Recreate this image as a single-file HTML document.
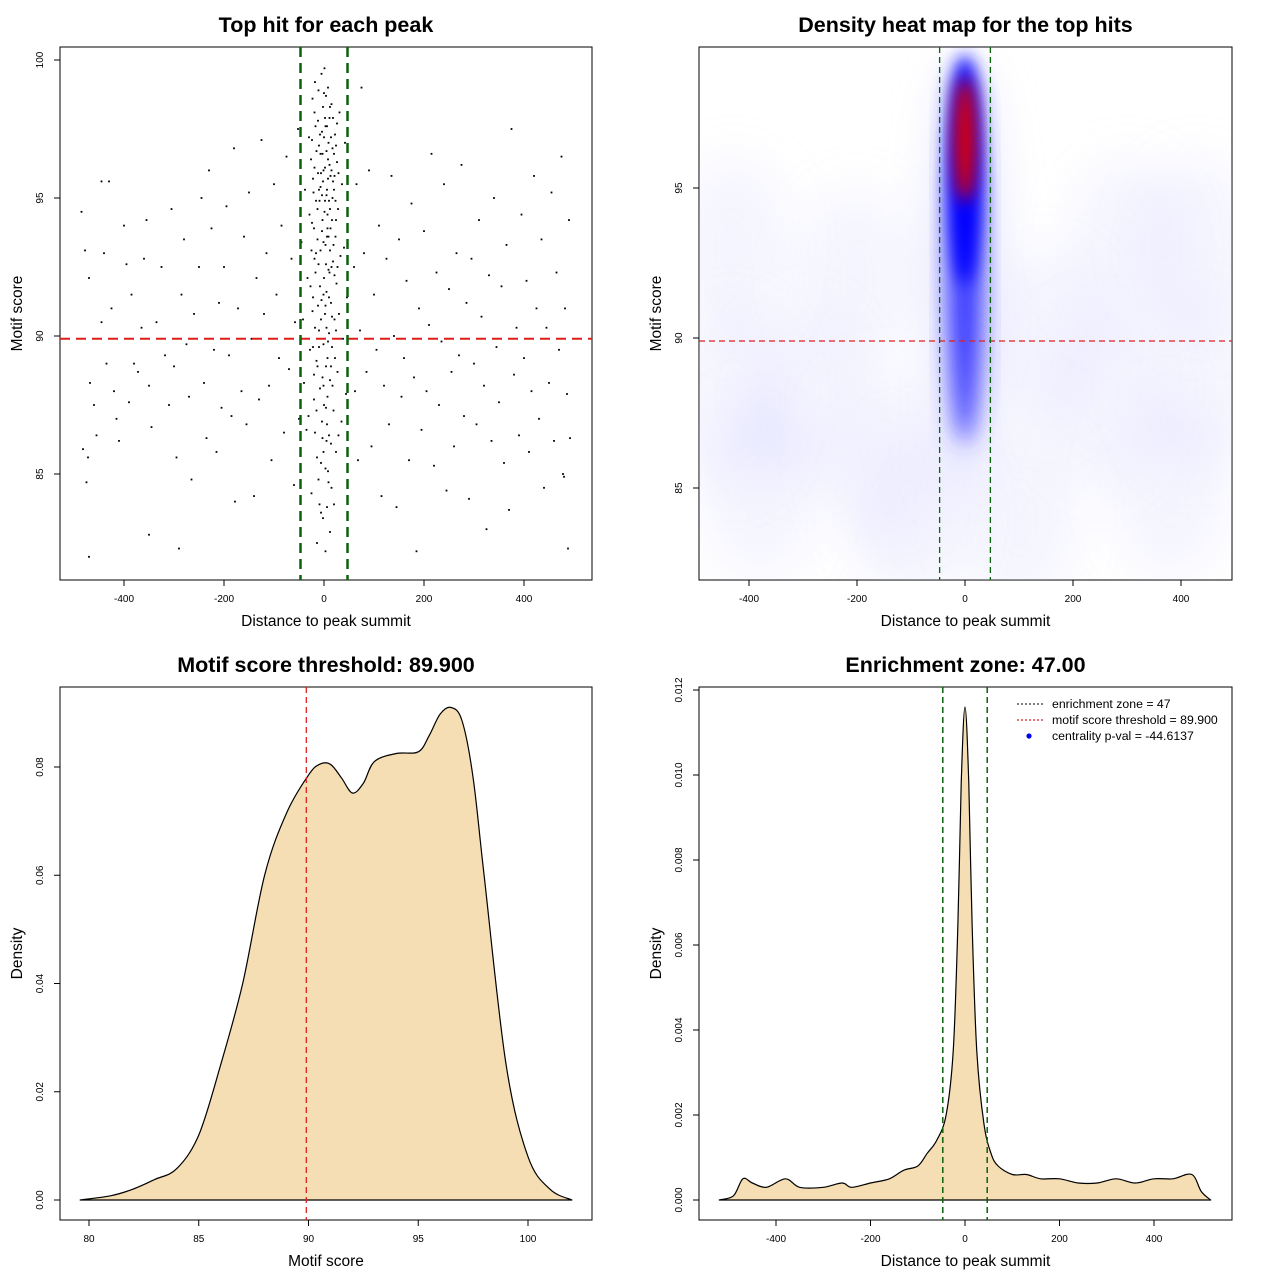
<!DOCTYPE html>
<html><head><meta charset="utf-8"><style>
body{margin:0;background:#fff}
svg{display:block;font-family:"Liberation Sans",sans-serif}
</style></head><body>
<svg id="c" width="1280" height="1280" viewBox="0 0 1280 1280">
<defs>
<clipPath id="clip2"><rect x="699" y="47" width="533" height="533"/></clipPath>
<filter id="blurA" x="-50%" y="-50%" width="200%" height="200%"><feGaussianBlur stdDeviation="12"/></filter>
<filter id="blurB" x="-50%" y="-50%" width="200%" height="200%"><feGaussianBlur stdDeviation="8"/></filter>
<filter id="blurC" x="-50%" y="-50%" width="200%" height="200%"><feGaussianBlur stdDeviation="22"/></filter>
</defs>
</svg>
<script>
// ---------- data ----------
const hits = [
[-485,94.5],[-478,93.1],[-470,92.1],[-468,88.3],[-460,87.5],[-455,86.4],[-472,85.6],[-482,85.9],[-475,84.7],[-470,82],[-445,95.6],[-430,95.6],[-440,93],[-425,91],[-435,89],[-420,88],[-415,87],[-410,86.2],[-445,90.5],[-400,94],[-395,92.6],[-385,91.5],[-380,89],[-390,87.6],[-372,88.7],[-365,90.3],[-360,92.8],[-355,94.2],[-350,88.2],[-345,86.7],[-350,82.8],[-335,90.5],[-325,92.5],[-318,89.3],[-310,87.5],[-305,94.6],[-300,88.9],[-295,85.6],[-290,82.3],[-285,91.5],[-280,93.5],[-275,89.7],[-270,87.8],[-265,84.8],[-260,90.8],[-250,92.5],[-245,95],[-240,88.3],[-235,86.3],[-230,96],[-225,93.9],[-220,89.5],[-215,85.8],[-210,91.2],[-205,87.4],[-200,92.5],[-195,94.7],[-190,89.3],[-185,87.1],[-180,96.8],[-178,84],[-172,91],[-165,88],[-160,93.6],[-155,86.8],[-150,95.2],[-145,89.9],[-140,84.2],[-135,92.1],[-130,87.7],[-125,97.1],[-120,90.8],[-115,93],[-110,88.2],[-105,85.5],[-100,95.5],[-95,91.5],[-90,89.2],[-85,94],[-80,86.5],[-75,96.5],[-70,88.8],[-65,92.8],[-60,84.6],[-58,90.5],[-52,97.5],[-50,87],
[60,92.5],[62,88],[65,95.5],[68,85.5],[72,90.2],[75,99],[80,93],[85,88.7],[90,96],[95,86],[100,91.5],[105,89.5],[110,94],[115,84.2],[120,88.2],[125,92.8],[130,86.8],[135,95.8],[140,90],[145,83.8],[150,93.5],[155,87.8],[160,89.2],[165,92],[170,85.5],[175,94.8],[180,88.5],[185,82.2],[190,91],[195,86.6],[200,93.8],[205,88],[210,90.4],[215,96.6],[220,85.3],[225,92.3],[230,87.5],[235,89.8],[240,95.5],[245,84.4],[250,91.7],[255,88.7],[260,86],[265,93],[270,89.3],[275,96.2],[280,87.1],[285,91.2],[290,84.1],[295,92.8],[300,89],[305,86.8],[310,94.2],[315,90.7],[320,88.2],[325,83],[330,92.2],[335,86.2],[340,95],[345,89.6],[350,87.6],[355,91.8],[360,85.4],[365,93.3],[370,83.7],[375,97.5],[380,88.6],[385,90.3],[390,86.4],[395,94.4],[400,89.2],[405,92],[410,85.8],[415,88],[420,95.8],[425,91],[430,87],[435,93.5],[440,84.5],[445,90.3],[450,88.3],[455,95.2],[460,86.2],[465,92.3],[470,89.5],[475,96.5],[478,85],[482,91],[486,87.9],[490,94.2],[492,86.3],[488,82.3],[480,84.9],
[-45,93.4],[-42,90.6],[-40,88.3],[-38,95.3],[-35,86.6],[-33,92.1],[-30,97.2],[-28,89.5],[-25,84.3],[-24,94.1],[-22,91.4],[-20,87.7],[-19,96.1],[-18,99.2],[-16,93],[-15,89.1],[-14,85.6],[-12,97.8],[-11,92.6],[-10,90.2],[-9,94.9],[-8,88.1],[-7,96.6],[-6,83.6],[-5,99.5],[-5,91.3],[-4,93.8],[-3,86.3],[-2,98.3],[-2,95.6],[-1,89.7],[0,97.2],[0,92.1],[0,87.5],[1,94.5],[1,99.7],[2,90.8],[2,96.1],[3,85.2],[3,93.3],[4,98.7],[4,88.9],[5,95.1],[5,91.6],[6,97.6],[6,86.8],[7,93.9],[7,89.2],[8,99],[8,96.4],[9,92.4],[9,84.7],[10,94.9],[10,90.1],[11,97.9],[12,88.4],[12,93.1],[13,95.8],[14,86.1],[14,91.2],[15,98.4],[16,94.2],[16,89.6],[17,96.8],[18,92.7],[19,87.3],[20,95.3],[21,90.6],[22,97.3],[23,93.6],[24,85.8],[25,91.9],[26,96.3],[27,88.7],[28,94.6],[30,90.8],[31,98.1],[33,92.9],[35,86.9],[36,95.5],[38,89.9],[40,93.2],[42,97],[44,87.9],[46,91.4],
[-26,96.4],[-23,98.6],[-21,95.2],[-17,97.6],[-13,94.6],[-10,96.9],[-7,95.4],[-4,97.4],[-1,96],[2,97.9],[5,96.7],[8,95.7],[11,96.2],[14,97.2],[17,95],[20,96.6],[23,94.9],[26,97.7],[29,95.9],[-29,94.4],[-20,93.9],[-12,95.9],[-3,94.2],[6,93.6],[12,94.6],[19,93.3],[27,92.5],[-27,91.8],[-17,92.3],[-8,91.8],[3,91.1],[11,92.3],[22,89.2],[-22,89.6],[-13,88.9],[-3,88.5],[7,87.8],[17,88.2],[29,86.4],[-31,87.1],[-18,86.5],[-6,85.4],[5,86.2],[15,84.5],[-9,83.9],[12,82.9],[-14,82.5],[3,82.2],
[-24,97.1],[-19,98.1],[-15,96.7],[-11,98.9],[-8,97.3],[-6,95.9],[-3,96.6],[0,98.8],[3,97.6],[6,95.3],[9,97],[12,98.3],[15,96],[18,97.9],[21,95.8],[24,96.9],[-22,95.7],[-16,94.9],[-10,95.3],[-4,95.1],[2,94.9],[7,94.4],[13,93.9],[18,95.6],[24,94.2],[-25,93.1],[-19,92.8],[-13,93.5],[-7,93.1],[-1,93.4],[4,92.6],[9,93.6],[15,92.5],[21,92.2],[-23,90.9],[-18,90.3],[-12,91.1],[-6,90.6],[-1,91.5],[5,90.3],[10,91.4],[16,90.7],[24,90.2],[-20,88.6],[-10,89.6],[-1,88.2],[8,89.8],[14,88.9],[-15,87.3],[-4,86.9],[4,87.4],[10,86.4],[-1,85.8],[8,85.1],[-11,84.8],[20,83.9],[-2,83.4],[6,83.8]
];
const scatXTicks = [-400,-200,0,200,400];
const scatYTicks = [85,90,95,100];
const threshold = 89.9;
const zone = 47;

const heatXTicks = [-400,-200,0,200,400];
const heatYTicks = [85,90,95];

const scoreX = [79.6,81,82,83,84,85,86,87,88,89,90,90.5,91,91.5,92,92.5,93,94,95,95.5,96,96.5,97,97.5,98,99,100,101,102];
const scoreDens = [0,0.0008,0.002,0.0038,0.0058,0.012,0.025,0.04,0.06,0.0715,0.0785,0.0805,0.0805,0.078,0.0752,0.077,0.081,0.0825,0.0828,0.0858,0.0898,0.091,0.0885,0.078,0.06,0.025,0.008,0.002,0];
const scoreXTicks = [80,85,90,95,100];
const scoreYTicks = [0,0.02,0.04,0.06,0.08];

const distX = [-520,-490,-470,-450,-420,-380,-350,-300,-260,-240,-200,-160,-130,-100,-80,-60,-40,-25,-15,-8,0,8,15,25,40,55,70,100,130,160,200,240,280,320,360,400,440,480,500,520];
const distDens = [0,0.0001,0.0005,0.0004,0.0003,0.0005,0.0003,0.0003,0.0004,0.0003,0.0004,0.0005,0.0007,0.0008,0.0011,0.0014,0.002,0.0035,0.0065,0.0098,0.0116,0.0098,0.0065,0.0035,0.0018,0.0011,0.0008,0.0006,0.0006,0.0005,0.0005,0.0004,0.0004,0.0005,0.0004,0.0005,0.0005,0.0006,0.0002,0];
const distXTicks = [-400,-200,0,200,400];
const distYTicks = [0,0.002,0.004,0.006,0.008,0.010,0.012];
const legendLabels = ["enrichment zone = 47","motif score threshold = 89.900","centrality p-val = -44.6137"];

// ---------- helpers ----------
const svg = document.getElementById('c');
const NS = 'http://www.w3.org/2000/svg';
function mk(tag, attrs, parent){const e=document.createElementNS(NS,tag);for(const k in attrs)e.setAttribute(k,attrs[k]);(parent||svg).appendChild(e);return e;}
function lin(d0,d1,r0,r1){return v=>r0+(v-d0)*(r1-r0)/(d1-d0);}
function txt(x,y,s,size,opts,parent){const t=mk('text',Object.assign({x:x,y:y,'font-size':size,'text-anchor':'middle'},opts||{}),parent);t.textContent=s;return t;}
function smooth(P){ // Catmull-Rom -> bezier
  let d='M'+P[0][0].toFixed(1)+' '+P[0][1].toFixed(1);
  for(let i=0;i<P.length-1;i++){
    const p0=P[Math.max(0,i-1)],p1=P[i],p2=P[i+1],p3=P[Math.min(P.length-1,i+2)];
    const c1=[p1[0]+(p2[0]-p0[0])/6,p1[1]+(p2[1]-p0[1])/6];
    const c2=[p2[0]-(p3[0]-p1[0])/6,p2[1]-(p3[1]-p1[1])/6];
    d+=` C${c1[0].toFixed(1)} ${c1[1].toFixed(1)} ${c2[0].toFixed(1)} ${c2[1].toFixed(1)} ${p2[0].toFixed(1)} ${p2[1].toFixed(1)}`;
  }
  return d;
}

function panel(name,box,xs,ys,xticks,yticks,fmtX,fmtY,title,xlabel,ylabel){
  const g=mk('g',{});
  
  
  const b=mk('rect',{x:box[0],y:box[1],width:box[2]-box[0],height:box[3]-box[1],fill:'none',stroke:'#000','stroke-width':1},g);
  
  
  const xa=mk('g',{},g);
  
  
  xticks.forEach(v=>{const x=xs(v);mk('line',{x1:x,x2:x,y1:box[3],y2:box[3]+6,stroke:'#000'},xa);txt(x,box[3]+22,fmtX(v),10,{},xa);});
  const ya=mk('g',{},g);
  
  
  yticks.forEach(v=>{const y=ys(v);mk('line',{x1:box[0]-6,x2:box[0],y1:y,y2:y,stroke:'#000'},ya);txt(box[0]-17,y,fmtY(v),10,{transform:`rotate(-90 ${box[0]-17} ${y})`},ya);});
  const t=txt((box[0]+box[2])/2,32+(box[1]-47),title,21.5,{'font-weight':'bold'},g);
  
  
  const xl=txt((box[0]+box[2])/2,box[3]+46,xlabel,15.5,{},g);
  
  
  const lx=box[0]-38,ly=(box[1]+box[3])/2;
  const yl=txt(lx,ly,ylabel,15.5,{transform:`rotate(-90 ${lx} ${ly})`},g);
  
  
  return g;
}
const intF=v=>String(v);
const dec2=v=>v.toFixed(2);
const dec3=v=>v.toFixed(3);

// ---------- panel 1 scatter ----------
{
  const box=[60,47,592,580];
  const xs=lin(0,400,324,524), ys=lin(90,100,336,60);
  const g=panel('scatter-panel',box,xs,ys,scatXTicks,scatYTicks,intF,intF,'Top hit for each peak','Distance to peak summit','Motif score');
  const pts=mk('g',{},g);
  
  
  hits.forEach(p=>{mk('rect',{x:xs(p[0])-0.9,y:ys(p[1])-0.9,width:1.8,height:1.8,fill:'#000'},pts);});
  const h=mk('line',{x1:box[0],x2:box[2],y1:ys(threshold),y2:ys(threshold),stroke:'#dd1c1c','stroke-width':2,'stroke-dasharray':'10 6'},g);
  
  
  [-zone,zone].forEach(z=>{const l=mk('line',{x1:xs(z),x2:xs(z),y1:box[1],y2:box[3],stroke:'#0a640a','stroke-width':2.5,'stroke-dasharray':'10 6'},g);
    
    });
}

// ---------- panel 2 heatmap ----------
{
  const box=[699,47,1232,580];
  const xs=lin(0,400,965,1181), ys=lin(90,95,338,188);
  const g=panel('heatmap-panel',box,xs,ys,heatXTicks,heatYTicks,intF,intF,'Density heat map for the top hits','Distance to peak summit','Motif score');
  const hm=mk('g',{'clip-path':'url(#clip2)'},g);
  
  
  [[-430,88],[-430,93],[-300,88],[-200,92],[-150,86],[150,90],[250,88],[300,93],[430,88.5],[430,93],[-100,84],[100,84],[-380,85],[380,85]].forEach(c=>{
    mk('ellipse',{cx:xs(c[0]),cy:ys(c[1]),rx:60,ry:90,fill:'#d0d0ff','fill-opacity':0.22,filter:'url(#blurC)'},hm);});
  mk('ellipse',{cx:xs(0),cy:ys(92),rx:40,ry:220,fill:'#dcdcff','fill-opacity':0.6,filter:'url(#blurC)'},hm);
  mk('ellipse',{cx:xs(0),cy:ys(92.8),rx:18,ry:190,fill:'#3535ff',filter:'url(#blurA)'},hm);
  mk('ellipse',{cx:xs(0),cy:ys(95.6),rx:16,ry:115,fill:'#0000ff',filter:'url(#blurB)'},hm);
  mk('ellipse',{cx:xs(0),cy:ys(96.6),rx:11,ry:62,fill:'#e00000',filter:'url(#blurB)'},hm);
  const h=mk('line',{x1:box[0],x2:box[2],y1:ys(threshold),y2:ys(threshold),stroke:'#dd2020','stroke-width':1.3,'stroke-dasharray':'6 4'},g);
  
  
  [-zone,zone].forEach(z=>{const l=mk('line',{x1:xs(z),x2:xs(z),y1:box[1],y2:box[3],stroke:'#0a640a','stroke-width':1.3,'stroke-dasharray':'6 4'},g);
    
    });
}

// ---------- panel 3 score density ----------
{
  const box=[60,687,592,1220];
  const xs=lin(80,100,89,528), ys=lin(0,0.08,1200,767);
  const g=panel('score-density-panel',box,xs,ys,scoreXTicks,scoreYTicks,intF,dec2,'Motif score threshold: 89.900','Motif score','Density');
  const P=scoreX.map((v,i)=>[xs(v),ys(scoreDens[i])]);
  const p=mk('path',{d:smooth(P)+' Z',fill:'#f5deb3',stroke:'#000','stroke-width':1.2,'stroke-linejoin':'round'},g);
  
  
  const l=mk('line',{x1:xs(threshold),x2:xs(threshold),y1:box[1],y2:box[3],stroke:'#dd2020','stroke-width':1.3,'stroke-dasharray':'6 4'},g);
  
  
}

// ---------- panel 4 distance density ----------
{
  const box=[699,687,1232,1220];
  const xs=lin(0,400,965,1154), ys=lin(0,0.012,1200,690);
  const g=panel('distance-density-panel',box,xs,ys,distXTicks,distYTicks,intF,dec3,'Enrichment zone: 47.00','Distance to peak summit','Density');
  const P=distX.map((v,i)=>[xs(v),ys(distDens[i])]);
  const p=mk('path',{d:smooth(P)+' Z',fill:'#f5deb3',stroke:'#000','stroke-width':1.2,'stroke-linejoin':'round'},g);
  
  
  [-zone,zone].forEach(z=>{const l=mk('line',{x1:xs(z),x2:xs(z),y1:box[1],y2:box[3],stroke:'#0a640a','stroke-width':1.5,'stroke-dasharray':'6 4'},g);
    
    });
  const lg=mk('g',{},g);
  
  
  const cols=['#333','#dd2020','#0000ff'];
  legendLabels.forEach((s,i)=>{
    const y=704+i*16;
    const e=mk('g',{},lg);
    
    
    if(i<2) mk('line',{x1:1017,x2:1043,y1:y,y2:y,stroke:cols[i],'stroke-width':1.2,'stroke-dasharray':'2 2'},e);
    else mk('circle',{cx:1029,cy:y,r:2.6,fill:cols[i]},e);
    txt(1052,y+4,s,12.3,{'text-anchor':'start'},e);
  });
}
</script>
</body></html>
